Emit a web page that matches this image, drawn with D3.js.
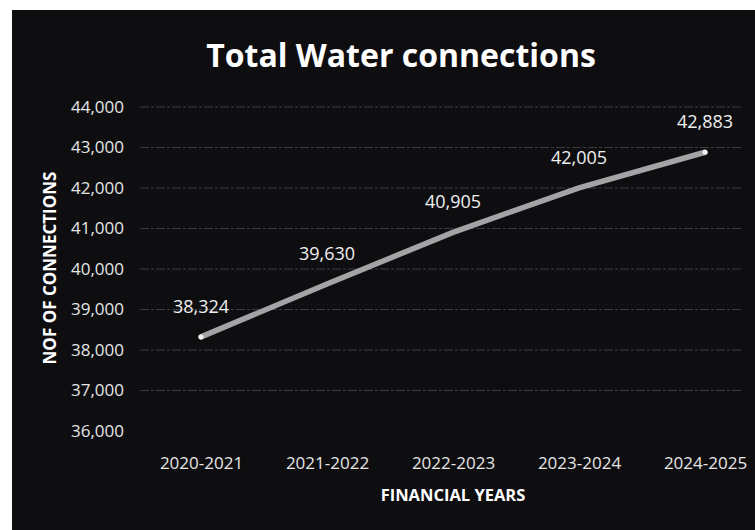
<!DOCTYPE html>
<html>
<head>
<title>Total Water connections</title>
<script src="https://cdn.jsdelivr.net/npm/d3@7"></script>
<style>
  body { margin: 0; background: #fff; }
  svg text { font-family: "Open Sans", sans-serif; }
</style>
</head>
<body>
<div class="chart"></div>
<script>
  var years = ["2020-2021", "2021-2022", "2022-2023", "2023-2024", "2024-2025"];
  var connections = [38324, 39630, 40905, 42005, 42883];
  var yTicks = [36000, 37000, 38000, 39000, 40000, 41000, 42000, 43000, 44000];

  var width = 755, height = 530;

  var svg = d3.select(".chart").append("svg")
      .attr("width", width)
      .attr("height", height);

  // dark scanned panel
  svg.append("rect")
      .attr("x", 12).attr("y", 10)
      .attr("width", width - 12).attr("height", height - 10)
      .attr("fill", "#0e0e11");

  var x = d3.scalePoint().domain(years).range([201, 705]);
  var y = d3.scaleLinear().domain([36000, 44000]).range([431, 107]);

  // grid
  svg.selectAll(".grid").data(yTicks.slice(1)).enter()
      .append("line")
      .attr("x1", 140).attr("x2", 742)
      .attr("y1", function(d){ return y(d); })
      .attr("y2", function(d){ return y(d); })
      .style("stroke", "#3c3c40")
      .style("stroke-width", 1.2)
      .style("stroke-dasharray", "9,2,3,2");

  // y axis labels
  var yAxis = d3.axisLeft(y).tickValues(yTicks).tickFormat(d3.format(",")).tickSize(0).tickPadding(0);
  var ya = svg.append("g").attr("transform", "translate(124,0)").call(yAxis);
  ya.select(".domain").remove();
  ya.selectAll("text").attr("fill", "#e6e6e6").style("font-size", "17px").style("font-family", "'Open Sans', sans-serif");

  // x axis labels
  var xAxis = d3.axisBottom(x).tickSize(0).tickPadding(0);
  var xa = svg.append("g").attr("transform", "translate(0,457)").call(xAxis);
  xa.select(".domain").remove();
  xa.selectAll("text").attr("fill", "#e6e6e6").style("font-size", "17px").style("font-family", "'Open Sans', sans-serif");

  // line
  var line = d3.line()
      .x(function(d, i){ return x(years[i]); })
      .y(function(d){ return y(d); });
  svg.append("path")
      .datum(connections)
      .attr("d", line)
      .attr("fill", "none")
      .style("stroke", "#a4a4a6")
      .style("stroke-width", 5.5)
      .style("stroke-linecap", "round");

  svg.selectAll(".dot").data([0, connections.length - 1]).enter()
      .append("circle")
      .attr("cx", function(i){ return x(years[i]); })
      .attr("cy", function(i){ return y(connections[i]); })
      .attr("r", 2.5)
      .attr("fill", "#f2f2f2");

  // data labels
  svg.selectAll(".lbl").data(connections).enter()
      .append("text")
      .attr("x", function(d, i){ return x(years[i]); })
      .attr("y", function(d){ return y(d) - 24; })
      .attr("text-anchor", "middle")
      .attr("fill", "#f0f0f0")
      .style("font-size", "18px")
      .text(d3.format(","));

  // title
  svg.append("text")
      .attr("x", 401).attr("y", 67)
      .attr("text-anchor", "middle")
      .attr("fill", "#ffffff")
      .style("font-size", "32px")
      .style("font-weight", "bold")
      .text("Total Water connections");

  // axis titles
  svg.append("text")
      .attr("x", 453).attr("y", 501)
      .attr("text-anchor", "middle")
      .attr("fill", "#ffffff")
      .style("font-size", "16.5px")
      .style("font-weight", "bold")
      .text("FINANCIAL YEARS");

  svg.append("text")
      .attr("transform", "translate(56,268) rotate(-90)")
      .attr("text-anchor", "middle")
      .attr("fill", "#ffffff")
      .style("font-size", "17px")
      .style("font-weight", "bold")
      .text("NOF OF CONNECTIONS");
</script>
</body>
</html>
